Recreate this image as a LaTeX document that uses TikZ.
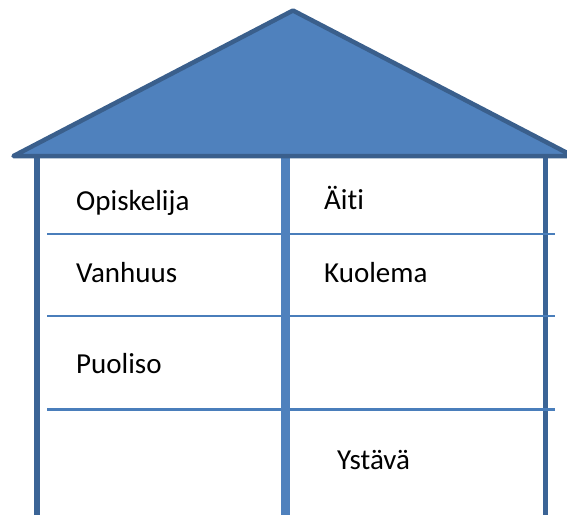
\documentclass[tikz,border=0pt]{standalone}
\usepackage{fontspec}
\setmainfont[Ligatures={NoCommon,NoContextual}]{Carlito}
\definecolor{roofFill}{HTML}{4F81BD}
\definecolor{roofLine}{HTML}{3A5F8C}
\definecolor{wallDark}{HTML}{3B6496}
\definecolor{wallMid}{HTML}{4F81BD}
\definecolor{rowLine}{HTML}{4A7EBB}
\tikzset{
  label text/.style={anchor=base west, inner sep=0pt, font=\fontsize{29}{35}\selectfont, text=black},
  outer wall/.style={draw=wallDark, line width=5.5pt},
  mid wall/.style={draw=wallMid, line width=9pt},
  row line/.style={draw=rowLine, line width=2pt},
  row line thick/.style={draw=rowLine, line width=3pt}
}
\begin{document}
\begin{tikzpicture}[x=1pt,y=-1pt]
\useasboundingbox (0,0) rectangle (567,515);
\begin{scope}
\clip (0,0) rectangle (567,515);
% walls
\draw[outer wall] (37,157) -- (37,515);
\draw[outer wall] (545.5,157) -- (545.5,515);
% row lines
\draw[row line] (47,233.5) -- (555,233.5);
\draw[row line] (47,316) -- (555,316);
\draw[row line thick] (47,409.5) -- (555,409.5);
% middle wall
\draw[mid wall] (285.5,157) -- (285.5,515);
% roof
\draw[fill=roofFill, draw=roofLine, line width=4.5pt, line join=round]
  (13.5,156) -- (293,10.5) -- (573,156) -- cycle;
\end{scope}
% labels
\node[label text] (t1) at (76,210) {Opiskelija};
\node[label text] (t2) at (324,209.5) {Äiti};
\node[label text] (t3) at (76,282) {Vanhuus};
\node[label text] (t4) at (324,282) {Kuolema};
\node[label text] (t5) at (76,373) {Puoliso};
\node[label text] (t6) at (337,469) {Ystävä};
\end{tikzpicture}
\end{document}
